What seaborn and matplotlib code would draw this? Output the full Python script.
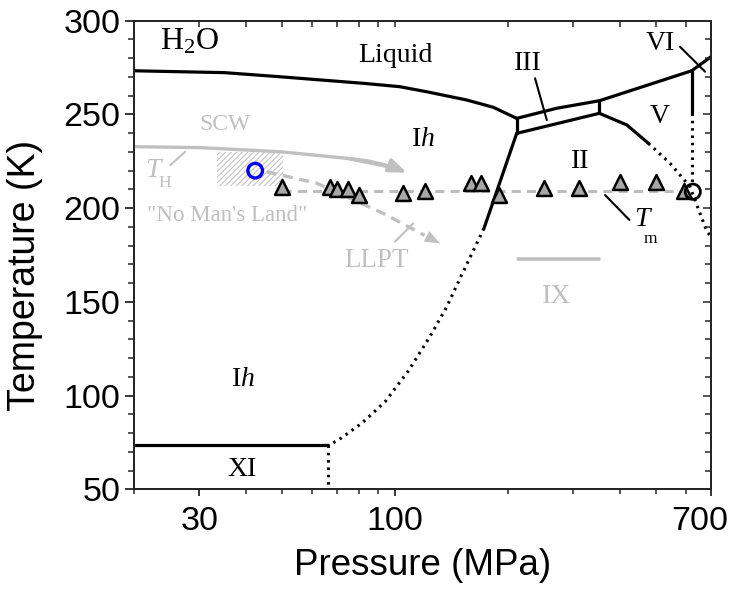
import numpy as np
import pandas as pd
import matplotlib
matplotlib.use("Agg")
import matplotlib.pyplot as plt
import matplotlib.transforms as mtrans
import seaborn as sns
from matplotlib.patches import Rectangle
from matplotlib.ticker import FixedLocator, NullFormatter, FixedFormatter

# ---------------- data (P in MPa, T in K) ----------------
liq_ih_P = [20, 35, 49.3, 82.3, 103, 121.6, 155.6, 183.3, 211.6]
liq_ih_T = [273.3, 272.3, 270.1, 266.6, 264.8, 262.1, 257.7, 253.8, 247.9]
ih_iii_P = [211.6, 211.6]
ih_iii_T = [247.9, 239.9]
iii_liq_P = [211.6, 270.8, 352]
iii_liq_T = [247.9, 253.3, 257.3]
iii_ii_P = [211.6, 352]
iii_ii_T = [239.9, 250.6]
iii_v_P = [352, 352]
iii_v_T = [250.6, 257.3]
v_liq_P = [352, 621.6]
v_liq_T = [257.3, 273.3]
vi_liq_P = [621.6, 700]
vi_liq_T = [273.3, 280.8]
v_vi_P = [621.6, 621.6]
v_vi_T = [273.3, 250.6]
v_vi_dot_P = [621.6, 621.6]
v_vi_dot_T = [250.6, 212.0]
ii_v_P = [352, 416.7, 476]
ii_v_T = [250.6, 244.4, 234.6]
ii_v_dot_P = [476, 544, 615, 683, 700]
ii_v_dot_T = [234.6, 223.9, 211.4, 187.3, 185.0]
ih_ii_P = [211.6, 173]
ih_ii_T = [239.9, 189.2]
ih_ii_dot_P = [173, 149.3, 137.6, 124, 108.2, 94.1, 81.5, 70.6, 66.4]
ih_ii_dot_T = [189.2, 162.6, 147.4, 131.4, 112.7, 96.7, 85.2, 76.3, 73.6]
xi_P = [20, 66.4]
xi_T = [73.6, 73.6]
xi_dot_P = [66.4, 66.4]
xi_dot_T = [73.6, 50]
ix_P = [213.8, 352]
ix_T = [172.7, 172.7]

tm_P = [50, 625]
tm_T = [209.0, 209.0]
tri_P = [50, 67, 70, 75, 80, 105, 120, 160, 170, 190, 250, 310, 400, 500, 593]
tri_T = [211.4, 211.4, 210.0, 210.0, 207.0, 208.2, 209.3, 213.3, 213.3, 207.0,
         210.6, 210.6, 213.8, 213.8, 209.3]
blue_P, blue_T = [42.3], [220.0]
ring_P, ring_T = [625.6], [208.8]

scw_P = [20, 30, 49.3, 74.3, 95, 107.6]
scw_T = [232.8, 232.3, 230.1, 226.6, 222.3, 218.9]
llpt_P = [45.4, 61.8, 93.1, 120, 132]
llpt_T = [219.4, 213.3, 197.2, 185.5, 181.2]
nml_P = [33.5, 50.1]
nml_T = [212.0, 230.1]

x_major = [30, 100, 700]
x_major_labels = ["30", "100", "700"]
x_minor = [20, 40, 50, 60, 70, 80, 90, 200, 300, 400, 500, 600]
y_major = list(range(50, 301, 50))
y_minor = list(range(50, 301, 10))

# ---------------- figure ----------------
sns.set_theme(style="white")
plt.rcParams["font.family"] = ["Liberation Sans", "DejaVu Sans"]
plt.rcParams["mathtext.fontset"] = "custom"
plt.rcParams["mathtext.rm"] = "Liberation Serif"
plt.rcParams["mathtext.it"] = "Liberation Serif:italic"
plt.rcParams["hatch.linewidth"] = 0.8
plt.rcParams["hatch.color"] = "#c4c4c4"
fig = plt.figure(figsize=(7.34, 5.97), dpi=100)
ax = fig.add_axes([0.1819, 0.1804, 0.7868, 0.7849])
ax.set_xscale("log")

SER = ["Liberation Serif", "DejaVu Serif"]
GRAY = "#c0c0c0"


def line(P, T, style="-", color="black", lw=2.3, z=3):
    df = pd.DataFrame({"P": P, "T": T})
    sns.lineplot(data=df, x="P", y="T", ax=ax, sort=False, estimator=None,
                 color=color, lw=lw, linestyle=style, zorder=z)


# hatched "No Man's Land"
ax.add_patch(Rectangle((nml_P[0], nml_T[0]), nml_P[1] - nml_P[0], nml_T[1] - nml_T[0],
                       fill=False, hatch="//////", edgecolor="#c4c4c4", lw=0, zorder=1))

# solid phase boundaries
for P, T in [(liq_ih_P, liq_ih_T), (ih_iii_P, ih_iii_T), (iii_liq_P, iii_liq_T),
             (iii_ii_P, iii_ii_T), (iii_v_P, iii_v_T), (v_liq_P, v_liq_T),
             (vi_liq_P, vi_liq_T), (v_vi_P, v_vi_T), (ii_v_P, ii_v_T),
             (ih_ii_P, ih_ii_T), (xi_P, xi_T)]:
    line(P, T)
# dotted metastable extensions
for P, T in [(v_vi_dot_P, v_vi_dot_T), (ii_v_dot_P, ii_v_dot_T),
             (ih_ii_dot_P, ih_ii_dot_T), (xi_dot_P, xi_dot_T)]:
    line(P, T, style=(0, (0.8, 1.6)), lw=2.2)

# IX line
line(ix_P, ix_T, color=GRAY, lw=2.6)

# Tm dashed
line(tm_P, tm_T, style=(0, (3, 2)), color="#bdbdbd", lw=2.2, z=2)

# SCW (T_H) arrow
line(scw_P[:-1], scw_T[:-1], color=GRAY, lw=2.4, z=2)
ax.annotate("", xy=(scw_P[-1], scw_T[-1]), xytext=(scw_P[-3], scw_T[-3]),
            arrowprops=dict(arrowstyle="-|>,head_length=0.9,head_width=0.35",
                            color=GRAY, lw=2.4, shrinkA=0, shrinkB=0,
                            connectionstyle="arc3,rad=-0.08"), zorder=2)
# LLPT dashed arrow
line(llpt_P[:-1], llpt_T[:-1], style=(0, (3, 2)), color=GRAY, lw=2.4, z=2)
ax.annotate("", xy=(llpt_P[-1], llpt_T[-1]), xytext=(llpt_P[-2], llpt_T[-2]),
            arrowprops=dict(arrowstyle="-|>,head_length=0.9,head_width=0.35",
                            color=GRAY, lw=0.1, shrinkA=0, shrinkB=0), zorder=2)

# triangles
sns.scatterplot(x=tri_P, y=tri_T, ax=ax, marker="^", s=115, color="#a8a8a8",
                edgecolor="black", linewidth=1.8, zorder=5)
# circles
sns.scatterplot(x=blue_P, y=blue_T, ax=ax, marker="o", s=110, facecolor="none",
                edgecolor="#0000ee", linewidth=2.4, zorder=6)
sns.scatterplot(x=ring_P, y=ring_T, ax=ax, marker="o", s=120, facecolor="none",
                edgecolor="black", linewidth=2.0, zorder=6)

# ---------------- labels ----------------
def txt(P, T, s, size=20, color="black", **kw):
    ax.text(P, T, s, fontsize=size, color=color, family=SER,
            ha="center", va="center", zorder=7, **kw)

txt(28.3, 289.0, r"H$_\mathregular{2}$O", size=23)
txt(100, 281.7, "Liquid")
txt(227.3, 277.3, "III")
txt(511.4, 287.9, "VI")
txt(511.4, 248.8, "V")
txt(312.5, 224.8, "II")
txt(118.9, 236.4, r"I$\mathit{h}$")
txt(39.3, 108.8, r"I$\mathit{h}$")
txt(38.9, 60.3, "XI")
txt(35.1, 244.4, "SCW", size=17, color=GRAY)
txt(35.5, 196.3, "\"No Man's Land\"", size=16.5, color=GRAY)
txt(89.4, 172.3, "LLPT", size=19.5, color=GRAY)
txt(270.8, 153.1, "IX", size=20, color=GRAY)
ax.text(22.6, 220.3, "T", fontsize=20, color=GRAY, family=SER, style="italic",
        ha="center", va="center", zorder=7)
ax.text(24.3, 213.6, "H", fontsize=12.5, color=GRAY, family=SER,
        ha="center", va="center", zorder=7)
ax.text(456, 194.0, "T", fontsize=20, color="black", family=SER, style="italic",
        ha="center", va="center", zorder=7)
ax.text(482, 183.5, "m", fontsize=12.5, color="black", family=SER,
        ha="center", va="center", zorder=7)

# pointer lines
for (p0, t0, p1, t1, c) in [(236.9, 269.3, 254.7, 247.0, "black"),
                            (578.3, 286.1, 675.0, 272.8, "black"),
                            (364.6, 207.0, 423.5, 193.7, "black"),
                            (25.1, 223.0, 27.5, 230.1, GRAY),
                            (100.0, 182.1, 112.0, 191.9, GRAY)]:
    ax.plot([p0, p1], [t0, t1], color=c, lw=1.5, zorder=4)

# ---------------- axes ----------------
ax.set_xlim(20, 700)
ax.set_ylim(50, 300)
ax.xaxis.set_major_locator(FixedLocator(x_major))
ax.xaxis.set_major_formatter(FixedFormatter(x_major_labels))
ax.xaxis.set_minor_locator(FixedLocator(x_minor))
ax.xaxis.set_minor_formatter(NullFormatter())
ax.yaxis.set_major_locator(FixedLocator(y_major))
ax.yaxis.set_minor_locator(FixedLocator(y_minor))
ax.tick_params(axis="x", which="major", direction="out", length=5, width=1.1,
               labelsize=24.5, pad=7, colors="black")
ax.tick_params(axis="x", which="minor", direction="out", length=3.5, width=1.1)
ax.tick_params(axis="y", which="major", direction="out", length=6.5, width=1.1,
               labelsize=24.5, pad=3, colors="black")
ax.tick_params(axis="y", which="minor", direction="out", length=4, width=1.1)
for sp in ax.spines.values():
    sp.set_visible(True)
    sp.set_color("black")
    sp.set_linewidth(1.2)

# inward ticks on top and right
axt = ax.twiny()
axt.set_xscale("log")
axt.set_xlim(ax.get_xlim())
axt.xaxis.set_major_locator(FixedLocator(x_major))
axt.xaxis.set_minor_locator(FixedLocator(x_minor))
axt.xaxis.set_major_formatter(NullFormatter())
axt.xaxis.set_minor_formatter(NullFormatter())
axt.tick_params(axis="x", which="both", direction="in", length=4, width=1.1, top=True,
                bottom=False)
axr = ax.twinx()
axr.set_ylim(ax.get_ylim())
axr.yaxis.set_major_locator(FixedLocator(y_major))
axr.yaxis.set_minor_locator(FixedLocator(y_minor))
axr.yaxis.set_major_formatter(NullFormatter())
axr.tick_params(axis="y", which="major", direction="in", length=6, width=1.1, right=True,
                left=False)
axr.tick_params(axis="y", which="minor", direction="in", length=4, width=1.1)
axt.grid(False); axr.grid(False)

ax.set_xlabel("Pressure (MPa)", fontsize=26.5, color="black")
ax.set_ylabel("Temperature (K)", fontsize=27, color="black")
ax.xaxis.set_label_coords(0.5, -0.125)
ax.yaxis.set_label_coords(-0.157, 0.457)

# shift the last x tick label left so it stays inside the figure
fig.canvas.draw()
lab700 = ax.get_xticklabels()[-1]
lab700.set_transform(lab700.get_transform() +
                     mtrans.ScaledTranslation(-11 / 100, 0, fig.dpi_scale_trans))

fig.savefig("out.png", dpi=100)
